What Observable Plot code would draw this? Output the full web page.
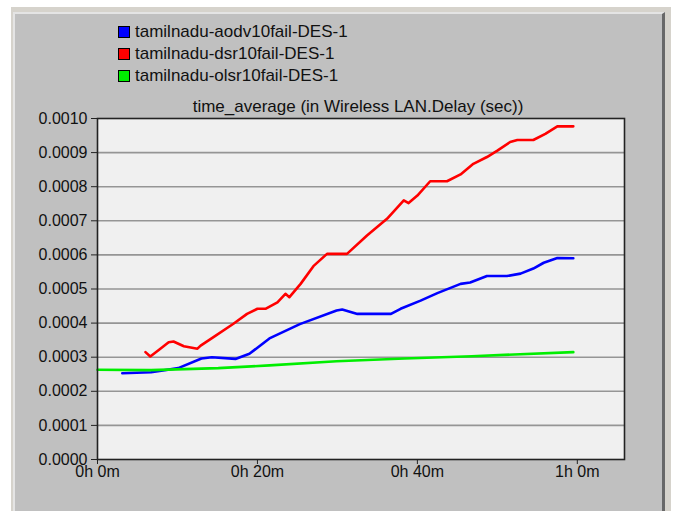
<!DOCTYPE html>
<html>
<head>
<meta charset="utf-8">
<script src="https://cdn.jsdelivr.net/npm/d3@7"></script>
<script src="https://cdn.jsdelivr.net/npm/@observablehq/plot@0.6"></script>
<style>
  html, body { margin: 0; padding: 0; background: #ffffff; }
  #wrap { position: relative; width: 678px; height: 511px; overflow: hidden; font-family: "Liberation Sans", Arial, sans-serif; }
  #outer { position: absolute; left: 11px; top: 7px; width: 660px; height: 504px; background: #d6d3cc; }
  #panel { position: absolute; left: 13px; top: 12px; width: 652px; height: 499px; background: #c0c0c0;
           border-left: 2px solid #e4e4e4; border-top: 2px solid #e4e4e4; border-right: 3px solid #686868; box-sizing: border-box; }
  #chart { position: absolute; left: 0; top: 0; }
  #legend { position: absolute; left: 118px; top: 21px; font-size: 17px; color: #111; }
  .row { height: 22px; line-height: 22px; white-space: nowrap; display: flex; align-items: center; }
  .sw { width: 12px; height: 12px; border: 1px solid #000; margin-right: 5px; box-sizing: border-box; }
</style>
</head>
<body>
<div id="wrap">
  <div id="outer"></div>
  <div id="panel"></div>
  <div id="chart"></div>
  <div id="legend"></div>
</div>
<script>
// ---- data (time in minutes, delay in seconds) ----
const seriesNames = ["tamilnadu-aodv10fail-DES-1", "tamilnadu-dsr10fail-DES-1", "tamilnadu-olsr10fail-DES-1"];
const seriesColors = ["#0000ff", "#ff0000", "#00ee00"];

const aodvT = [3.1, 6.7, 10.1, 13, 14.3, 17.25, 19, 21.5, 25.3, 29.9, 30.6, 32.5, 36.7, 37.9, 40.4, 42.5, 45.4, 46.6, 48.7, 51.2, 52.9, 54.5, 55.8, 57.5, 59.5];
const aodvV = [0.000253, 0.000256, 0.000268, 0.000296, 0.000300, 0.000295, 0.000310, 0.000355, 0.000397, 0.000437, 0.000440, 0.000427, 0.000427, 0.000442, 0.000466, 0.000488, 0.000515, 0.000519, 0.000538, 0.000538, 0.000545, 0.000560, 0.000577, 0.000591, 0.000590];

const dsrT = [6, 6.6, 7.7, 8.9, 9.5, 10.8, 12.5, 12.9, 14.5, 17, 18.7, 20, 21, 22.5, 23.5, 24, 25.4, 27, 28.7, 31.2, 33.7, 36.2, 38.3, 38.9, 40, 41.6, 43.7, 45.4, 47, 48.7, 50, 51.6, 52.5, 54.5, 56, 57.5, 59.5];
const dsrV = [0.000315, 0.000302, 0.000322, 0.000344, 0.000346, 0.000332, 0.000325, 0.000334, 0.000359, 0.000398, 0.000427, 0.000442, 0.000442, 0.000461, 0.000486, 0.000476, 0.000515, 0.000567, 0.000603, 0.000603, 0.000657, 0.000706, 0.000760, 0.000752, 0.000774, 0.000816, 0.000816, 0.000836, 0.000867, 0.000887, 0.000906, 0.000931, 0.000937, 0.000937, 0.000955, 0.000977, 0.000977];

const olsrT = [0, 6.7, 15.1, 21.5, 29.9, 38.4, 46.8, 59.5];
const olsrV = [0.000263, 0.000262, 0.000268, 0.000276, 0.000288, 0.000296, 0.000303, 0.000315];

const xTicks = [0, 20, 40, 60];
const xTickLabels = ["0h 0m", "0h 20m", "0h 40m", "1h 0m"];
const yTicks = [0, 0.0001, 0.0002, 0.0003, 0.0004, 0.0005, 0.0006, 0.0007, 0.0008, 0.0009, 0.0010];
const chartTitle = "time_average (in Wireless LAN.Delay (sec))";

const toRows = (T, V, s) => T.map((t, i) => ({t, v: V[i], s}));
const rows = [
  ...toRows(aodvT, aodvV, seriesNames[0]),
  ...toRows(dsrT, dsrV, seriesNames[1]),
  ...toRows(olsrT, olsrV, seriesNames[2])
];

const chart = Plot.plot({
  width: 678,
  height: 511,
  marginLeft: 97,
  marginRight: 54,
  marginTop: 118,
  marginBottom: 52,
  style: { background: "transparent", fontFamily: "'Liberation Sans', Arial, sans-serif", fontSize: "16px", color: "#111" },
  x: { domain: [0, 65.9] },
  y: { domain: [0, 0.001] },
  color: { domain: seriesNames, range: seriesColors },
  marks: [
    Plot.frame({ fill: "#f0f0f0" }),
    Plot.ruleY(yTicks.slice(1, -1), { stroke: "#959595", strokeWidth: 1.6 }),
    Plot.axisY({ ticks: yTicks, tickFormat: d3.format(".4f"), tickSize: 6, tickPadding: 4, label: null, stroke: "#222", fontSize: 16 }),
    Plot.axisX({ ticks: xTicks, tickFormat: (d) => xTickLabels[xTicks.indexOf(d)], tickSize: 5, tickPadding: 1, label: null, stroke: "#222", fontSize: 16 }),
    Plot.line(rows, { x: "t", y: "v", z: "s", stroke: "s", strokeWidth: 2.6, curve: "linear" }),
    Plot.frame({ stroke: "#222", strokeWidth: 1.6 }),
    Plot.text([chartTitle], { frameAnchor: "top", dx: -3, dy: -19, fontSize: 17, fill: "#111" })
  ]
});
document.getElementById("chart").appendChild(chart);

const legend = document.getElementById("legend");
seriesNames.forEach((name, i) => {
  const row = document.createElement("div");
  row.className = "row";
  const sw = document.createElement("span");
  sw.className = "sw";
  sw.style.background = seriesColors[i];
  const label = document.createElement("span");
  label.textContent = name;
  row.appendChild(sw);
  row.appendChild(label);
  legend.appendChild(row);
});
</script>
</body>
</html>
